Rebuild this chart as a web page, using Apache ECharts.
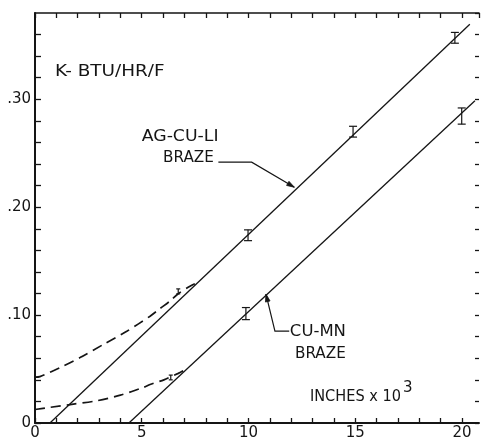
<!DOCTYPE html>
<html>
<head>
<meta charset="utf-8">
<script src="https://cdn.jsdelivr.net/npm/echarts@6/dist/echarts.min.js"></script>
<style>
  html, body { margin: 0; padding: 0; background: #fff; }
  #chart { width: 481px; height: 441px; }
</style>
</head>
<body>
<div id="chart"></div>
<script>
// Tick labels
const xLabelValues = [0, 5, 10, 15, 20];
const yLabelValues = [0, 0.10, 0.20, 0.30];
const yLabelTexts = ['0', '.10', '.20', '.30'];

// Conductance K vs. joint gap (inches x 10^3)
const agCuLi = [[0.70, 0], [20.37, 0.3696]];
const cuMn = [[4.40, 0], [20.61, 0.2986]];

// Low-gap trends (dashed)
const agCuLiLow = [[0, 0.0425], [0.23, 0.0430], [1.33, 0.0528], [2.11, 0.0606], [3.2, 0.0728],
  [4.3, 0.0850], [5.39, 0.0990], [5.85, 0.1060], [6.32, 0.1130], [6.71, 0.1198], [7.26, 0.1268], [7.49, 0.1290]];
const cuMnLow = [[0, 0.0125], [0.7, 0.0145], [1.8, 0.0175], [2.9, 0.0206], [4.0, 0.0258],
  [5.07, 0.0329], [5.39, 0.0357], [6.04, 0.0400], [6.71, 0.0460], [6.95, 0.0486]];

// Measured points with spread: [x, low, high]
const agCuLiBars = [[9.98, 0.169, 0.179], [14.9, 0.265, 0.275], [19.67, 0.352, 0.362]];
const cuMnBars = [[9.88, 0.0958, 0.107], [19.99, 0.277, 0.292]];
const lowGapBars = [[6.71, 0.1197, 0.1243], [6.36, 0.0400, 0.0444]];

const INK = '#151515';
const FONT = "'DejaVu Sans', sans-serif";

function barItem(halfW) {
  return function (params, api) {
    const x = api.value(0);
    const top = api.coord([x, api.value(2)]);
    const bot = api.coord([x, api.value(1)]);
    const s = { stroke: INK, lineWidth: 1.2 };
    return {
      type: 'group',
      children: [
        { type: 'line', shape: { x1: top[0], y1: top[1], x2: bot[0], y2: bot[1] }, style: s },
        { type: 'line', shape: { x1: top[0] - halfW, y1: top[1], x2: top[0] + halfW, y2: top[1] }, style: s },
        { type: 'line', shape: { x1: bot[0] - halfW, y1: bot[1], x2: bot[0] + halfW, y2: bot[1] }, style: s }
      ]
    };
  };
}

const chart = echarts.init(document.getElementById('chart'), null, { renderer: 'canvas' });

const labelStyle = { color: INK, fontFamily: FONT, fontSize: 15 };

chart.setOption({
  animation: false,
  backgroundColor: '#fff',
  grid: { left: 35, right: 2, top: 13, bottom: 17 },
  xAxis: [
    {
      type: 'value', min: 0, max: 20.8, interval: 1, position: 'bottom',
      axisLine: { show: true, onZero: false, lineStyle: { color: INK, width: 2 } },
      axisTick: { show: true, inside: true, length: 5, lineStyle: { color: INK, width: 1.3 } },
      splitLine: { show: false },
      axisLabel: {
        ...labelStyle, margin: 3, showMaxLabel: false,
        formatter: v => (xLabelValues.indexOf(Math.round(v * 100) / 100) >= 0 ? String(Math.round(v)) : '')
      }
    },
    {
      type: 'value', min: 0, max: 20.8, interval: 1, position: 'top',
      axisLine: { show: true, onZero: false, lineStyle: { color: INK, width: 1.6 } },
      axisTick: { show: true, inside: true, length: 5, lineStyle: { color: INK, width: 1.3 } },
      splitLine: { show: false },
      axisLabel: { show: false }
    }
  ],
  yAxis: [
    {
      type: 'value', min: 0, max: 0.38, interval: 0.02, position: 'left',
      axisLine: { show: true, onZero: false, lineStyle: { color: INK, width: 2 } },
      axisTick: { show: true, inside: true, length: 6, lineStyle: { color: INK, width: 1.3 } },
      splitLine: { show: false },
      axisLabel: {
        ...labelStyle, margin: 4, showMaxLabel: false,
        formatter: v => {
          const i = yLabelValues.findIndex(t => Math.abs(t - v) < 1e-6);
          return i >= 0 ? yLabelTexts[i] : '';
        }
      }
    },
    {
      type: 'value', min: 0, max: 0.38, interval: 0.02, position: 'right',
      axisLine: { show: false, onZero: false },
      axisTick: { show: true, inside: true, length: 4, lineStyle: { color: INK, width: 1.3 } },
      splitLine: { show: false },
      axisLabel: { show: false }
    }
  ],
  series: [
    { name: 'AG-CU-LI', type: 'line', data: agCuLi, symbol: 'none', silent: true,
      lineStyle: { color: INK, width: 1.3 } },
    { name: 'CU-MN', type: 'line', data: cuMn, symbol: 'none', silent: true,
      lineStyle: { color: INK, width: 1.3 } },
    { name: 'AG-CU-LI low gap', type: 'line', data: agCuLiLow, symbol: 'none', smooth: 0.25, silent: true,
      lineStyle: { color: INK, width: 1.7, type: [10, 6] } },
    { name: 'CU-MN low gap', type: 'line', data: cuMnLow, symbol: 'none', smooth: 0.25, silent: true,
      lineStyle: { color: INK, width: 1.7, type: [10, 6] } },
    { type: 'custom', data: agCuLiBars, renderItem: barItem(4), encode: { x: 0, y: [1, 2] }, silent: true },
    { type: 'custom', data: cuMnBars, renderItem: barItem(4), encode: { x: 0, y: [1, 2] }, silent: true },
    { type: 'custom', data: lowGapBars, renderItem: barItem(2), encode: { x: 0, y: [1, 2] }, silent: true }
  ]
});

// Annotations placed in data coordinates
const notes = [
  { text: 'K- BTU/HR/F', at: [0.94, 0.3253], size: 16, sx: 1.15 },
  { text: 'AG-CU-LI', at: [5.0, 0.2654], size: 16, sx: 1.08 },
  { text: 'BRAZE', at: [6.0, 0.2456], size: 16, sx: 0.95 },
  { text: 'CU-MN', at: [11.94, 0.0843], size: 16, sx: 1.03 },
  { text: 'BRAZE', at: [12.18, 0.0645], size: 16, sx: 0.95 },
  { text: 'INCHES x 10', at: [12.88, 0.0240], size: 15, sx: 0.97 },
  { text: '3', at: [17.24, 0.0325], size: 15, sx: 1 }
];
const leaders = [
  [[8.59, 0.2417], [10.15, 0.2417], [12.15, 0.2185]],
  [[11.91, 0.0851], [11.24, 0.0851], [10.82, 0.1195]]
];

const px = p => chart.convertToPixel({ xAxisIndex: 0, yAxisIndex: 0 }, p);
const graphics = [];
notes.forEach(n => {
  const p = px(n.at);
  graphics.push({
    type: 'text', x: p[0], y: p[1], scaleX: n.sx, silent: true,
    style: { text: n.text, fill: INK, font: n.size + 'px ' + FONT, textAlign: 'left', textVerticalAlign: 'middle' }
  });
});
leaders.forEach(path => {
  const pts = path.map(px);
  graphics.push({ type: 'polyline', silent: true, shape: { points: pts },
    style: { stroke: INK, lineWidth: 1.2, fill: null } });
  const a = pts[pts.length - 2], b = pts[pts.length - 1];
  const ang = Math.atan2(b[1] - a[1], b[0] - a[0]);
  const L = 8, spread = 0.3;
  const h1 = [b[0] - L * Math.cos(ang - spread), b[1] - L * Math.sin(ang - spread)];
  const h2 = [b[0] - L * Math.cos(ang + spread), b[1] - L * Math.sin(ang + spread)];
  graphics.push({ type: 'polygon', silent: true, shape: { points: [h1, b, h2] },
    style: { fill: INK, stroke: INK, lineWidth: 0.8 } });
});
chart.setOption({ graphic: graphics });
</script>
</body>
</html>
